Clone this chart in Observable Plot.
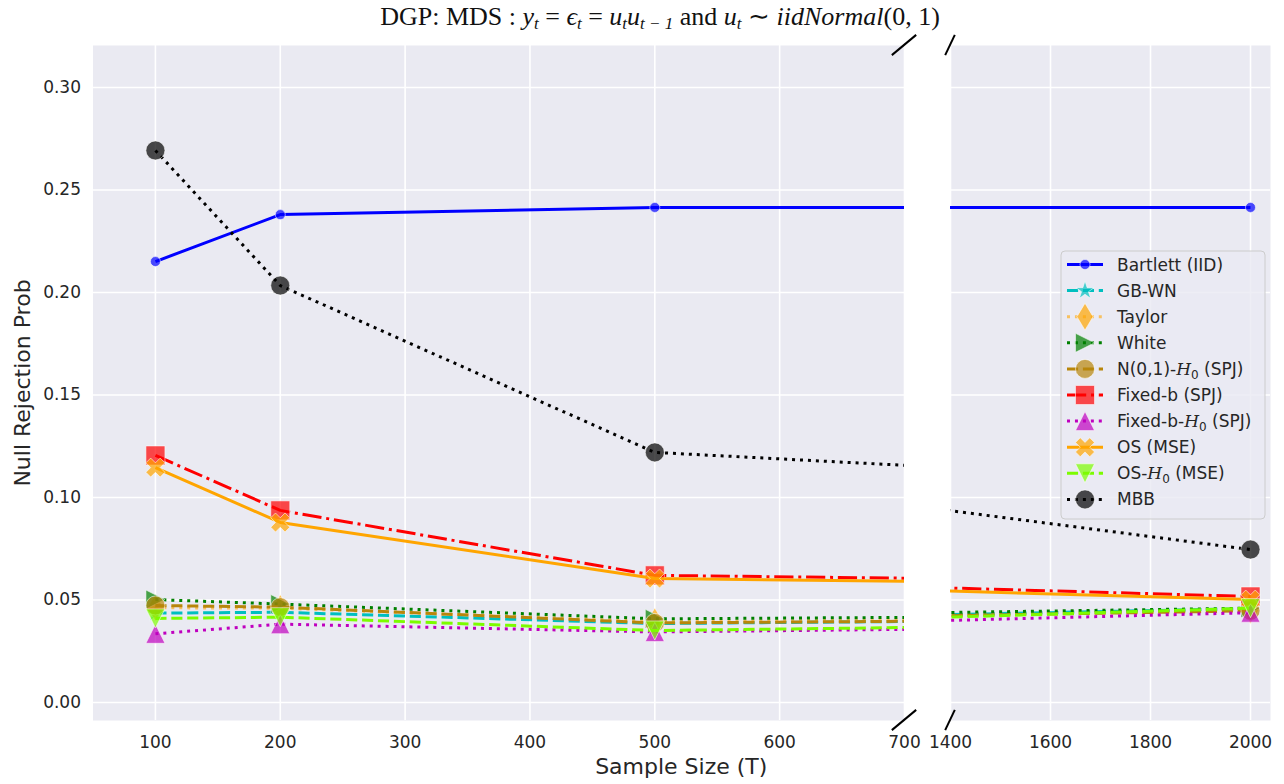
<!DOCTYPE html>
<html><head><meta charset="utf-8">
<script src="https://cdn.jsdelivr.net/npm/d3@7"></script>
<script src="https://cdn.jsdelivr.net/npm/@observablehq/plot@0.6"></script>
<style>
body{margin:0;background:#fff;}
#wrap{position:relative;width:1284px;height:784px;overflow:hidden;font-family:"DejaVu Sans",sans-serif;color:#262626;}
.abs{position:absolute;}
#title{position:absolute;left:660px;top:1px;transform:translateX(-50%);white-space:nowrap;font-family:"Liberation Serif",serif;font-size:26px;color:#111;}
#title i{font-style:italic;}
#title .sb{font-size:17px;vertical-align:-4px;font-style:italic;}
.lab{position:absolute;font-size:22px;white-space:nowrap;color:#262626;}
</style></head><body><div id="wrap">
<div id="title">DGP: MDS : <i>y</i><span class="sb">t</span> = <i>ϵ</i><span class="sb">t</span> = <i>u</i><span class="sb">t</span><i>u</i><span class="sb">t − 1</span> and <i>u</i><span class="sb">t</span> ∼ <i>iidNormal</i>(0, 1)</div>
<div class="lab" id="xlab">Sample Size (T)</div>
<div class="lab" id="ylab">Null Rejection Prob</div>
</div>
<script>
// ---------------- data ----------------
const sampleSizes = [100, 200, 500, 2000];
const seriesLabels = ["Bartlett (IID)", "GB-WN", "Taylor", "White", "N(0,1)-{H0} (SPJ)", "Fixed-b (SPJ)", "Fixed-b-{H0} (SPJ)", "OS (MSE)", "OS-{H0} (MSE)", "MBB"];
const bartlett = [0.2151, 0.2380, 0.2415, 0.2415];
const gbwn     = [0.0436, 0.0440, 0.0385, 0.0458];
const taylor   = [0.0462, 0.0460, 0.0395, 0.0450];
const white    = [0.0502, 0.0480, 0.0408, 0.0460];
const n01h0    = [0.0473, 0.0465, 0.0388, 0.0447];
const fixedb   = [0.1205, 0.0937, 0.0620, 0.0517];
const fixedbh0 = [0.0335, 0.0382, 0.0344, 0.0438];
const os       = [0.1146, 0.0878, 0.0605, 0.0502];
const osh0     = [0.0410, 0.0416, 0.0351, 0.0460];
const mbb      = [0.2693, 0.2034, 0.1220, 0.0746];
const yTicks = [0, 0.05, 0.10, 0.15, 0.20, 0.25, 0.30];
const xTicksLeft = [100, 200, 300, 400, 500, 600, 700];
const xTicksRight = [1400, 1600, 1800, 2000];
const xDomainLeft = [50, 700];
const xDomainRight = [1400, 2040];
const yDomain = [-0.0088, 0.3205];

// ---------------- marker shapes (matplotlib-like) ----------------
const hOf = size => Math.sqrt(size / Math.PI);
const poly = (ctx, pts) => { ctx.moveTo(pts[0][0], pts[0][1]); for (let i = 1; i < pts.length; i++) ctx.lineTo(pts[i][0], pts[i][1]); ctx.closePath(); };
const symCircle = {draw(ctx, size){ const h = hOf(size); ctx.moveTo(h, 0); ctx.arc(0, 0, h, 0, 2*Math.PI); }};
const symSquare = {draw(ctx, size){ const h = hOf(size); poly(ctx, [[-h,-h],[h,-h],[h,h],[-h,h]]); }};
const symTriUp = {draw(ctx, size){ const h = hOf(size); poly(ctx, [[0,-h],[-h,h],[h,h]]); }};
const symTriDown = {draw(ctx, size){ const h = hOf(size); poly(ctx, [[0,h],[-h,-h],[h,-h]]); }};
const symTriRight = {draw(ctx, size){ const h = hOf(size); poly(ctx, [[h,0],[-h,-h],[-h,h]]); }};
const symThinDiamond = {draw(ctx, size){ const h = hOf(size)*Math.SQRT2; poly(ctx, [[0,-h],[0.6*h,0],[0,h],[-0.6*h,0]]); }};
const symStar = {draw(ctx, size){ const h = hOf(size); const pts = []; for (let i = 0; i < 10; i++){ const rr = i % 2 ? h*0.381966 : h; const a = -Math.PI/2 + i*Math.PI/5; pts.push([rr*Math.cos(a), rr*Math.sin(a)]); } poly(ctx, pts); }};
const xv = [[-1,-2],[0,-1],[1,-2],[2,-1],[1,0],[2,1],[1,2],[0,1],[-1,2],[-2,1],[-1,0],[-2,-1]];
const symXFilled = {draw(ctx, size){ const h = hOf(size)/2; poly(ctx, xv.map(([a,b]) => [a*h, b*h])); }};

const DASHED = "11.1,4.8", DOTTED = "3,4.95", DASHDOT = "19.2,4.8,3,4.8";
const MR = 9.5;
const series = [
  {values: bartlett, color: "#0000ff", dash: null,    sym: symCircle,      r: 5},
  {values: gbwn,     color: "#00bfbf", dash: DASHED,  sym: symStar,        r: MR},
  {values: taylor,   color: "#ffa500", dash: DOTTED,  sym: symThinDiamond, r: MR, lineOpacity: 0.6},
  {values: white,    color: "#008000", dash: DOTTED,  sym: symTriRight,    r: MR},
  {values: n01h0,    color: "#b8860b", dash: DASHED,  sym: symCircle,      r: MR},
  {values: fixedb,   color: "#ff0000", dash: DASHDOT, sym: symSquare,      r: MR},
  {values: fixedbh0, color: "#bf00bf", dash: DOTTED,  sym: symTriUp,       r: MR},
  {values: os,       color: "#ffa500", dash: null,    sym: symXFilled,     r: MR},
  {values: osh0,     color: "#7cfc00", dash: DASHED,  sym: symTriDown,     r: MR},
  {values: mbb,      color: "#000000", dash: DOTTED,  sym: symCircle,      r: MR}
];
series.forEach((s, i) => s.label = seriesLabels[i]);

const BG = "#EAEAF2", INK = "#262626";

function makePanel({xDomain, xTicks, width, marginLeft, marginRight, showY}) {
  const marks = [
    Plot.frame({fill: BG, stroke: null}),
    Plot.gridX(xTicks, {stroke: "#fff", strokeOpacity: 1, strokeWidth: 1.6}),
    Plot.gridY(yTicks, {stroke: "#fff", strokeOpacity: 1, strokeWidth: 1.6})
  ];
  series.forEach(s => {
    const data = sampleSizes.map((x, i) => ({x, y: s.values[i]}));
    marks.push(Plot.line(data, {x: "x", y: "y", stroke: s.color, strokeWidth: 3, strokeDasharray: s.dash || undefined, strokeOpacity: s.lineOpacity ?? 1, strokeLinecap: "butt", strokeLinejoin: "round", clip: true}));
    marks.push(Plot.dot(data, {x: "x", y: "y", symbol: s.sym, r: s.r, fill: s.color, fillOpacity: 0.7, stroke: "#ffffff", strokeOpacity: 0.55, strokeWidth: 1, clip: true}));
  });
  marks.push(Plot.axisX(xTicks, {tickSize: 0, tickPadding: 15, fontSize: 17, fill: INK, label: null, tickFormat: d3.format("d")}));
  if (showY) marks.push(Plot.axisY(yTicks, {tickSize: 0, tickPadding: 12, fontSize: 17, fill: INK, tickFormat: d3.format(".2f"), label: null}));
  const opts = {
    width, height: 784, marginTop: 45, marginBottom: 64, marginLeft, marginRight,
    x: {domain: xDomain},
    y: {domain: yDomain},
    style: {background: "transparent", fontFamily: "DejaVu Sans", overflow: "visible", color: INK},
    marks
  };
  if (!showY) opts.y.axis = null;
  return Plot.plot(opts);
}

const wrap = document.getElementById("wrap");
const left = makePanel({xDomain: xDomainLeft, xTicks: xTicksLeft, width: 904, marginLeft: 92.5, marginRight: 0, showY: true});
left.style.position = "absolute"; left.style.left = "0px"; left.style.top = "0px";
wrap.appendChild(left);
const RIGHT_OFF = 920;
const right = makePanel({xDomain: xDomainRight, xTicks: xTicksRight, width: 364, marginLeft: 30, marginRight: 14, showY: false});
right.style.position = "absolute"; right.style.left = RIGHT_OFF + "px"; right.style.top = "0px";
wrap.appendChild(right);

// axis labels
const lx = left.scale("x"), rx = right.scale("x"), ly = left.scale("y");
const x0 = lx.apply(xDomainLeft[0]), x1 = RIGHT_OFF + rx.apply(xDomainRight[1]);
const yTop = ly.apply(yDomain[1]), yBot = ly.apply(yDomain[0]);
const xlab = document.getElementById("xlab");
xlab.style.left = ((x0 + x1)/2) + "px"; xlab.style.top = (yBot + 34) + "px"; xlab.style.transform = "translateX(-50%)";
const ylab = document.getElementById("ylab");
ylab.style.left = "22px"; ylab.style.top = ((yTop + yBot)/2) + "px"; ylab.style.transform = "translate(-50%,-50%) rotate(-90deg)";

// break marks
const ov = d3.select(wrap).append("svg").attr("class", "abs").attr("width", 1284).attr("height", 784).style("left", "0px").style("top", "0px").style("pointer-events", "none");
const bl = lx.apply(xDomainLeft[1]), br = RIGHT_OFF + rx.apply(xDomainRight[0]);
const dL = 0.015 * (bl - x0), dR = 0.015 * (x1 - br), dY = 0.015 * (yBot - yTop);
for (const yy of [yTop, yBot]) {
  ov.append("line").attr("x1", bl - dL).attr("y1", yy + dY).attr("x2", bl + dL).attr("y2", yy - dY).attr("stroke", "#000").attr("stroke-width", 2);
  ov.append("line").attr("x1", br - dR).attr("y1", yy + dY).attr("x2", br + dR).attr("y2", yy - dY).attr("stroke", "#000").attr("stroke-width", 2);
}

// legend
const LG = {x: 1061, y: 251, w: 204, h: 268, row0: 264.5, step: 26.1};
const lg = ov.append("g");
lg.append("rect").attr("x", LG.x).attr("y", LG.y).attr("width", LG.w).attr("height", LG.h).attr("rx", 4).attr("fill", BG).attr("fill-opacity", 0.8).attr("stroke", "#cccccc").attr("stroke-width", 1);
series.forEach((s, i) => {
  const cy = LG.row0 + i * LG.step;
  lg.append("line").attr("x1", 1067).attr("x2", 1103).attr("y1", cy).attr("y2", cy).attr("stroke", s.color).attr("stroke-width", 3).attr("stroke-opacity", s.lineOpacity ?? 1).attr("stroke-dasharray", s.dash).attr("stroke-linecap", "butt");
  lg.append("path").attr("transform", `translate(1085,${cy})`).attr("d", d3.symbol(s.sym, s.r*s.r*Math.PI)()).attr("fill", s.color).attr("fill-opacity", 0.7).attr("stroke", "#fff").attr("stroke-opacity", 0.55);
  const t = lg.append("text").attr("x", 1117).attr("y", cy + 6).attr("font-size", 17).attr("fill", INK).attr("font-family", "DejaVu Sans");
  let shift = 0;
  s.label.split(/(\{H0\})/).forEach(part => {
    if (part === "{H0}") {
      const h = t.append("tspan").attr("font-style", "italic").attr("font-family", "DejaVu Serif").text("H");
      if (shift) h.attr("dy", -shift);
      t.append("tspan").attr("font-size", 12).attr("dy", 4).text("0");
      shift = 4;
    } else if (part) {
      const p = t.append("tspan").text(part);
      if (shift) p.attr("dy", -shift);
      shift = 0;
    }
  });
});
</script>
</body></html>
